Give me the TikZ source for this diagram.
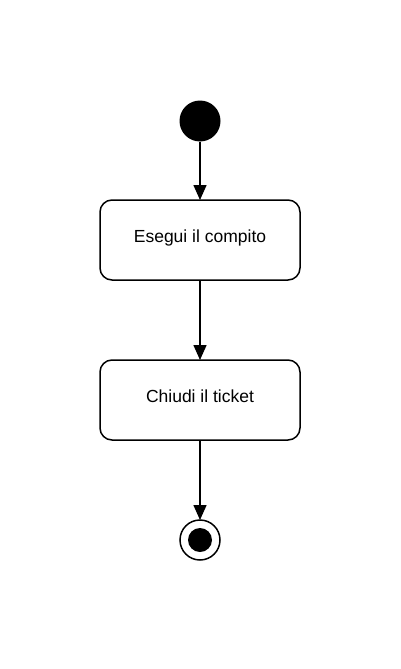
\documentclass[tikz,border=0pt]{standalone}
\usepackage{fontspec}
\setmainfont{Liberation Sans}
\usetikzlibrary{positioning,arrows.meta}
\tikzset{
initial/.style={circle,fill=black,minimum size=41pt,inner sep=0pt,outer sep=0pt},
activity/.style={draw=black,rounded corners=12pt,line width=1.5pt,minimum width=200pt,minimum height=80pt,inner sep=2pt,outer sep=0pt,text height=13pt,text depth=8pt,font=\fontsize{17.5}{21}\selectfont},
finalring/.style={circle,draw=black,line width=1.5pt,minimum size=40pt,inner sep=0pt,outer sep=0pt},
finaldot/.style={circle,fill=black,minimum size=24pt,inner sep=0pt},
flow/.style={-{Triangle[length=15pt,width=13pt]},line width=1.5pt}
}

\begin{document}
\begin{tikzpicture}
\useasboundingbox (0,0) rectangle (400pt,-669pt);
\node[initial] (start) at (200pt,-121pt) {};
\node[activity,below=58.5pt of start] (task) {Esegui il compito};
\node[activity,below=80pt of task] (close) {Chiudi il ticket};
\node[finalring,below=80pt of close] (stop) {};
\node[finaldot] (stopdot) at (stop) {};
\draw[flow] (start) -- (task);
\draw[flow] (task) -- (close);
\draw[flow] (close) -- (stop);
\end{tikzpicture}
\end{document}
